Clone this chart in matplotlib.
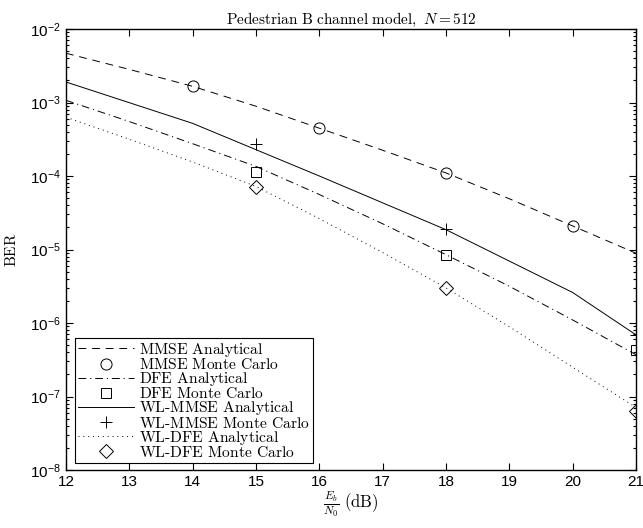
import math
import matplotlib
matplotlib.use("Agg")
import matplotlib.pyplot as plt
from matplotlib.ticker import LogLocator, FixedLocator, NullFormatter, FuncFormatter

plt.rcParams['font.family'] = ['Liberation Sans', 'DejaVu Sans']
plt.rcParams['mathtext.fontset'] = 'custom'
plt.rcParams['mathtext.rm'] = 'Liberation Sans'
plt.rcParams['mathtext.it'] = 'Liberation Sans:italic'
plt.rcParams['mathtext.bf'] = 'Liberation Sans:bold'

# ---- data ----
snr_an = [12, 13, 14, 15, 16, 17, 18, 19, 20, 21]
mmse_an = [4.68e-3, 2.82e-3, 1.66e-3, 8.9e-4, 4.47e-4, 2.24e-4, 1.1e-4, 4.9e-5, 2.09e-5, 8.9e-6]
dfe_an = [1.07e-3, 5.5e-4, 2.75e-4, 1.35e-4, 5.6e-5, 2.24e-5, 8.5e-6, 3.16e-6, 1.1e-6, 3.7e-7]
wldfe_an = [6.3e-4, 3.16e-4, 1.55e-4, 7.2e-5, 2.63e-5, 9.1e-6, 3.0e-6, 8.9e-7, 2.5e-7, 7.1e-8]

snr_wlmmse_an = [12, 14, 16, 18, 20, 21]
wlmmse_an = [1.9e-3, 5.2e-4, 1.0e-4, 1.86e-5, 2.6e-6, 6.9e-7]

snr_mmse_mc = [14, 16, 18, 20]
mmse_mc = [1.66e-3, 4.5e-4, 1.1e-4, 2.1e-5]

snr_mc = [15, 18, 21]
dfe_mc = [1.15e-4, 8.4e-6, 4.3e-7]
wlmmse_mc = [2.7e-4, 1.9e-5, 6.8e-7]
wldfe_mc = [7.1e-5, 3.0e-6, 6.3e-8]

x_ticks = [12, 13, 14, 15, 16, 17, 18, 19, 20, 21]
labels = ['MMSE Analytical', 'MMSE Monte Carlo', 'DFE Analytical', 'DFE Monte Carlo',
          'WL-MMSE Analytical', 'WL-MMSE Monte Carlo', 'WL-DFE Analytical', 'WL-DFE Monte Carlo']

fig = plt.figure(figsize=(6.43, 5.28), dpi=100)
ax = fig.add_axes([66/643, 1-470/528, 570/643, 441/528])

lw = 0.7
mk = dict(color='k', mfc='none', mew=0.7, linestyle='none')
ax.semilogy(snr_an, mmse_an, color='k', lw=lw, dashes=(8, 6), label=labels[0])
ax.semilogy(snr_mmse_mc, mmse_mc, marker='o', ms=8, label=labels[1], **mk)
ax.semilogy(snr_an, dfe_an, color='k', lw=lw, dashes=(8, 4, 1.2, 4), label=labels[2])
ax.semilogy(snr_mc, dfe_mc, marker='s', ms=7.5, label=labels[3], **mk)
ax.semilogy(snr_wlmmse_an, wlmmse_an, color='k', lw=lw, linestyle='-', label=labels[4])
ax.semilogy(snr_mc, wlmmse_mc, marker='+', ms=9, label=labels[5], **mk)
ax.semilogy(snr_an, wldfe_an, color='k', lw=lw, dashes=(1, 4), label=labels[6])
ax.semilogy(snr_mc, wldfe_mc, marker='D', ms=7, label=labels[7], **mk)

ax.set_xlim(12, 21)
ax.set_ylim(1e-8, 1e-2)
ax.xaxis.set_major_locator(FixedLocator(x_ticks))
ax.yaxis.set_major_locator(LogLocator(base=10, numticks=20))
ax.yaxis.set_minor_locator(LogLocator(base=10, subs=range(2, 10), numticks=20))
ax.yaxis.set_minor_formatter(NullFormatter())
ax.yaxis.set_major_formatter(FuncFormatter(lambda v, p: r'$10^{%d}$' % round(math.log10(v))))
ax.tick_params(which='both', direction='in', top=True, right=True, labelsize=11, width=0.8)
ax.tick_params(which='major', length=5)
ax.tick_params(which='minor', length=2.5)
for s in ax.spines.values():
    s.set_linewidth(1.0)

t = ax.set_title(r'$\mathrm{Pedestrian\ B\ channel\ model,}\ N = 512$', fontsize=11, pad=4)
t.set_math_fontfamily('cm')
xl = ax.set_xlabel(r'$\frac{E_b}{N_0}\ \mathrm{(dB)}$', fontsize=12, labelpad=0)
xl.set_math_fontfamily('cm')
yl = ax.set_ylabel(r'$\mathrm{BER}$', fontsize=11, labelpad=8)
yl.set_math_fontfamily('cm')

leg = ax.legend(loc='lower left', bbox_to_anchor=(0.016, 0.016), borderaxespad=0,
                fontsize=11.2, fancybox=False, framealpha=1, edgecolor='k',
                handlelength=3.6, handletextpad=0.3, labelspacing=-0.12,
                borderpad=0.2)
leg.get_frame().set_linewidth(0.8)
for txt, lab in zip(leg.get_texts(), labels):
    txt.set_text(r'$\text{' + lab + '}$')
    txt.set_math_fontfamily('cm')

fig.savefig('out.png', dpi=100)
